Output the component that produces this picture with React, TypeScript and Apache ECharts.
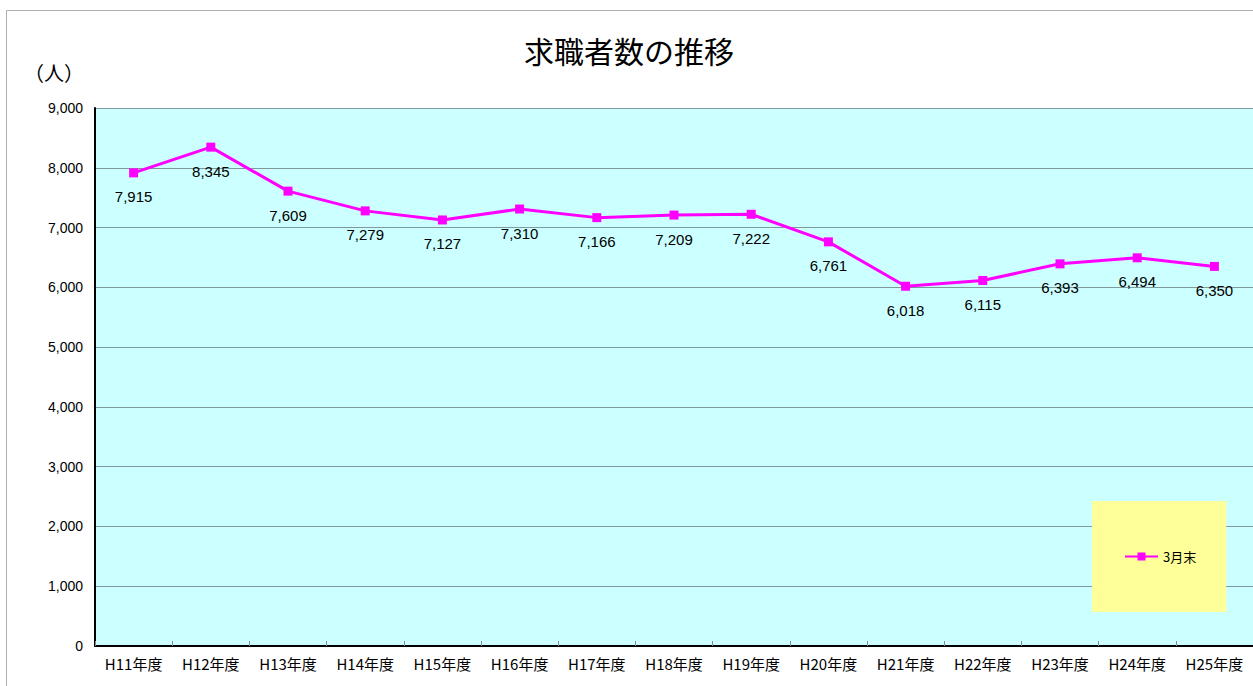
import React, { useEffect, useRef } from "react";
import * as echarts from "echarts";

const categories = ["H11年度","H12年度","H13年度","H14年度","H15年度","H16年度","H17年度","H18年度","H19年度","H20年度","H21年度","H22年度","H23年度","H24年度","H25年度"];
const seriesName = "3月末";
const values = [7915, 8345, 7609, 7279, 7127, 7310, 7166, 7209, 7222, 6761, 6018, 6115, 6393, 6494, 6350];
const titleText = "求職者数の推移";
const unitText = "（人）";

const FONT = "'Liberation Sans', 'Noto Sans CJK JP', sans-serif";
const CJK = "'Noto Sans CJK JP', sans-serif";

export default function App() {
  const ref = useRef<HTMLDivElement>(null);
  useEffect(() => {
    const chart = echarts.init(ref.current!, null, { renderer: "svg" });
    chart.setOption({
      animation: false,
      backgroundColor: "#ffffff",
      textStyle: { fontFamily: FONT },
      title: {
        text: titleText,
        left: 624,
        textAlign: "center",
        top: 30,
        textStyle: { fontSize: 30, fontWeight: "normal", color: "#000", fontFamily: CJK },
      },
      graphic: [
        {
          type: "rect",
          shape: { x: 6.5, y: 10.5, width: 1300, height: 700 },
          style: { fill: "none", stroke: "#b0b0b0", lineWidth: 1 },
          silent: true,
          z: -10,
        },
        {
          type: "text",
          x: 24,
          y: 62,
          style: { text: unitText, fontSize: 20, fill: "#000", fontFamily: CJK },
        },
      ],
      legend: {
        data: [seriesName],
        left: 1092,
        top: 501,
        backgroundColor: "#FFFF99",
        padding: [49, 30, 49, 32],
        itemWidth: 33,
        itemHeight: 10,
        itemGap: 4,
        textStyle: { fontSize: 13, color: "#000", fontFamily: CJK },
      },
      grid: {
        left: 95,
        top: 108,
        right: 0,
        bottom: 40,
        show: true,
        backgroundColor: "#CCFFFF",
        borderWidth: 0,
      },
      xAxis: {
        type: "category",
        data: categories,
        boundaryGap: true,
        axisLine: { lineStyle: { color: "#000", width: 2 } },
        axisTick: { show: true, inside: true, length: 5, lineStyle: { color: "#888" } },
        axisLabel: { fontSize: 15, color: "#000", margin: 10, fontFamily: CJK },
      },
      yAxis: {
        type: "value",
        min: 0,
        max: 9000,
        interval: 1000,
        axisLine: { show: true, lineStyle: { color: "#000", width: 2 } },
        axisTick: { show: false },
        axisLabel: {
          fontSize: 14,
          color: "#000",
          margin: 12,
          fontFamily: FONT,
          formatter: (v: number) => v.toLocaleString("en-US"),
        },
        splitLine: { show: true, lineStyle: { color: "#7f9a9a", width: 1 } },
      },
      series: [
        {
          name: seriesName,
          type: "line",
          data: values,
          symbol: "rect",
          symbolSize: 9,
          lineStyle: { color: "#FF00FF", width: 3 },
          itemStyle: { color: "#FF00FF" },
          label: {
            show: true,
            position: "bottom",
            distance: 12,
            fontSize: 15,
            color: "#000",
            fontFamily: FONT,
            formatter: (p: any) => Number(p.value).toLocaleString("en-US"),
          },
        },
      ],
    });
    return () => chart.dispose();
  }, []);
  return <div ref={ref} style={{ position: "fixed", left: 0, top: 0, width: 1253, height: 686 }} />;
}
